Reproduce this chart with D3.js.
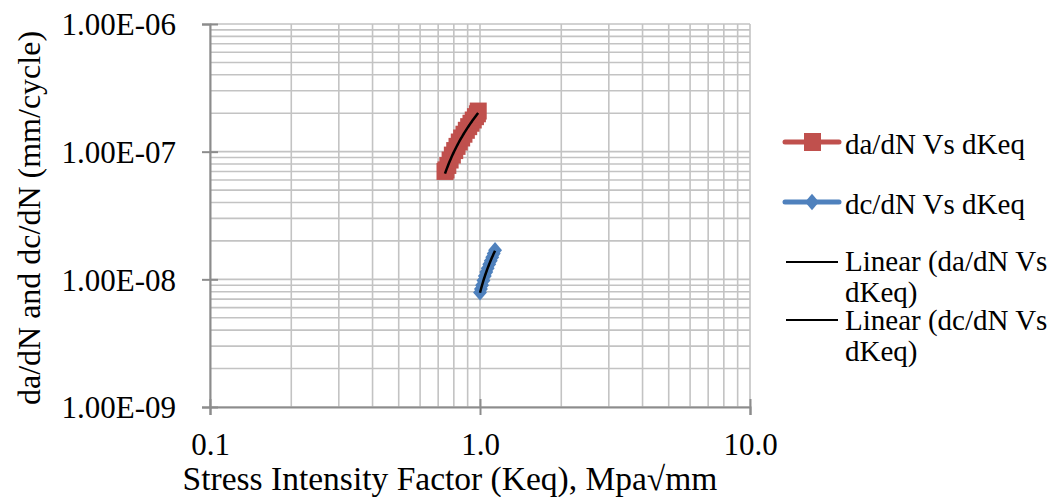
<!DOCTYPE html>
<html>
<head>
<meta charset="utf-8">
<script src="https://cdn.jsdelivr.net/npm/d3@7"></script>
<style>
  body { margin: 0; background: #fff; }
  svg text { font-family: "Liberation Serif", "Times New Roman", Times, serif; }
</style>
</head>
<body>
<svg width="1054" height="497"></svg>
<script>
// da/dN vs dKeq (red squares)
let daK = [0.742, 0.748, 0.760, 0.775, 0.790, 0.806, 0.822, 0.838, 0.855, 0.872, 0.890, 0.908, 0.926, 0.944, 0.962, 0.978, 0.985]
let daRate = [7.0e-8, 7.2e-8, 7.8e-8, 8.6e-8, 9.4e-8, 1.02e-7, 1.10e-7, 1.19e-7, 1.28e-7, 1.37e-7, 1.47e-7, 1.57e-7, 1.67e-7, 1.77e-7, 1.88e-7, 1.98e-7, 2.08e-7]
// dc/dN vs dKeq (blue diamonds)
let dcK = [1.000, 1.008, 1.018, 1.030, 1.042, 1.055, 1.068, 1.082, 1.096, 1.110, 1.124, 1.137]
let dcRate = [7.9e-9, 8.4e-9, 9.0e-9, 9.8e-9, 1.06e-8, 1.14e-8, 1.22e-8, 1.31e-8, 1.40e-8, 1.49e-8, 1.59e-8, 1.69e-8]

let xTicks = [0.1, 1, 10]
let yTicks = [1e-9, 1e-8, 1e-7, 1e-6]
let legendNames = ['da/dN Vs dKeq', 'dc/dN Vs dKeq', 'Linear (da/dN Vs|dKeq)', 'Linear (dc/dN Vs|dKeq)']

let red = '#c0504d'
let blue = '#4f81bd'

let svg = d3.select('svg')
let x = d3.scaleLog().domain([0.1, 10]).range([210, 750])
let y = d3.scaleLog().domain([1e-9, 1e-6]).range([407, 24])

// gridlines (major + minor)
let grid = svg.append('g').attr('stroke', '#c3c3c3').attr('stroke-width', 1.6)
grid.selectAll('.gx').data(x.ticks()).enter().append('line')
  .attr('x1', d => x(d)).attr('x2', d => x(d))
  .attr('y1', y.range()[0]).attr('y2', y.range()[1])
grid.selectAll('.gy').data(y.ticks()).enter().append('line')
  .attr('y1', d => y(d)).attr('y2', d => y(d))
  .attr('x1', x.range()[0]).attr('x2', x.range()[1])

// axes
let yFmt = d => '1.00E-' + String(-Math.round(Math.log10(d))).padStart(2, '0')
let xAxis = svg.append('g').attr('transform', 'translate(0,407)')
  .call(d3.axisBottom(x).tickValues(xTicks).tickFormat(d3.format('.1f')).tickSize(8).tickPadding(18))
let yAxis = svg.append('g').attr('transform', 'translate(210,0)')
  .call(d3.axisLeft(y).tickValues(yTicks).tickFormat(yFmt).tickSize(8).tickPadding(26))
svg.selectAll('g').attr('font-family', null)
xAxis.selectAll('.tick line').attr('y1', -8)
yAxis.selectAll('.tick line').attr('x1', 8)
svg.selectAll('.domain, .tick line').attr('stroke', '#8c8c8c').attr('stroke-width', 2)
svg.selectAll('.tick text').attr('font-size', 31).attr('fill', '#000')
xAxis.selectAll('.tick text').attr('dy', '0.72em')
yAxis.selectAll('.tick text').attr('dy', '0.35em')

// axis titles
svg.append('text').attr('x', 450).attr('y', 490).attr('text-anchor', 'middle')
  .attr('font-size', 33.5).text('Stress Intensity Factor (Keq), Mpa\u221Amm')
svg.append('text').attr('transform', 'translate(40,218) rotate(-90)').attr('text-anchor', 'middle')
  .attr('font-size', 32).text('da/dN and dc/dN (mm/cycle)')

// series
let daPts = daK.map((k, i) => [k, daRate[i]])
let dcPts = dcK.map((k, i) => [k, dcRate[i]])
let line = d3.line().x(d => x(d[0])).y(d => y(d[1]))

svg.append('path').datum(daPts).attr('d', line).attr('fill', 'none').attr('stroke', red).attr('stroke-width', 4.5)
svg.selectAll('.sq').data(daPts).enter().append('rect')
  .attr('x', d => x(d[0]) - 8.5).attr('y', d => y(d[1]) - 8.5)
  .attr('width', 17).attr('height', 17).attr('fill', red)

svg.append('path').datum(dcPts).attr('d', line).attr('fill', 'none').attr('stroke', blue).attr('stroke-width', 4.5)
let diamond = d3.symbol().type(d3.symbolDiamond2).size(170)
svg.selectAll('.dm').data(dcPts).enter().append('path')
  .attr('d', diamond).attr('transform', d => `translate(${x(d[0])},${y(d[1])}) scale(0.85,1)`)
  .attr('fill', blue)

// linear (least squares, linear space) trend lines drawn on the log axes
function trend(pts) {
  let mx = d3.mean(pts, d => d[0]), my = d3.mean(pts, d => d[1])
  let b = d3.sum(pts, d => (d[0] - mx) * (d[1] - my)) / d3.sum(pts, d => (d[0] - mx) ** 2)
  let a = my - b * mx
  let lo = d3.min(pts, d => d[0]), hi = d3.max(pts, d => d[0])
  return d3.range(0, 41).map(i => { let k = lo + (hi - lo) * i / 40; return [k, a + b * k] })
}
svg.append('path').datum(trend(daPts)).attr('d', line).attr('fill', 'none').attr('stroke', '#000').attr('stroke-width', 2.5)
svg.append('path').datum(trend(dcPts)).attr('d', line).attr('fill', 'none').attr('stroke', '#000').attr('stroke-width', 2.5)

// legend
let lg = svg.append('g')
lg.append('line').attr('x1', 785).attr('x2', 839).attr('y1', 142).attr('y2', 142).attr('stroke', red).attr('stroke-width', 5).attr('stroke-linecap', 'round')
lg.append('rect').attr('x', 804).attr('y', 133).attr('width', 17).attr('height', 18).attr('fill', red)
lg.append('line').attr('x1', 785).attr('x2', 839).attr('y1', 202).attr('y2', 202).attr('stroke', blue).attr('stroke-width', 5).attr('stroke-linecap', 'round')
lg.append('path').attr('d', diamond).attr('transform', 'translate(812,202) scale(0.85,1)').attr('fill', blue)
lg.append('line').attr('x1', 786).attr('x2', 838).attr('y1', 262).attr('y2', 262).attr('stroke', '#000').attr('stroke-width', 2)
lg.append('line').attr('x1', 786).attr('x2', 838).attr('y1', 320).attr('y2', 320).attr('stroke', '#000').attr('stroke-width', 2)

let baselines = [154, 214, 271, 330]
legendNames.forEach((name, i) => {
  let t = lg.append('text').attr('x', 845).attr('y', baselines[i]).attr('font-size', 29)
  name.split('|').forEach((part, j) => {
    t.append('tspan').attr('x', 845).attr('dy', j === 0 ? 0 : 31).text(part)
  })
})
</script>
</body>
</html>
